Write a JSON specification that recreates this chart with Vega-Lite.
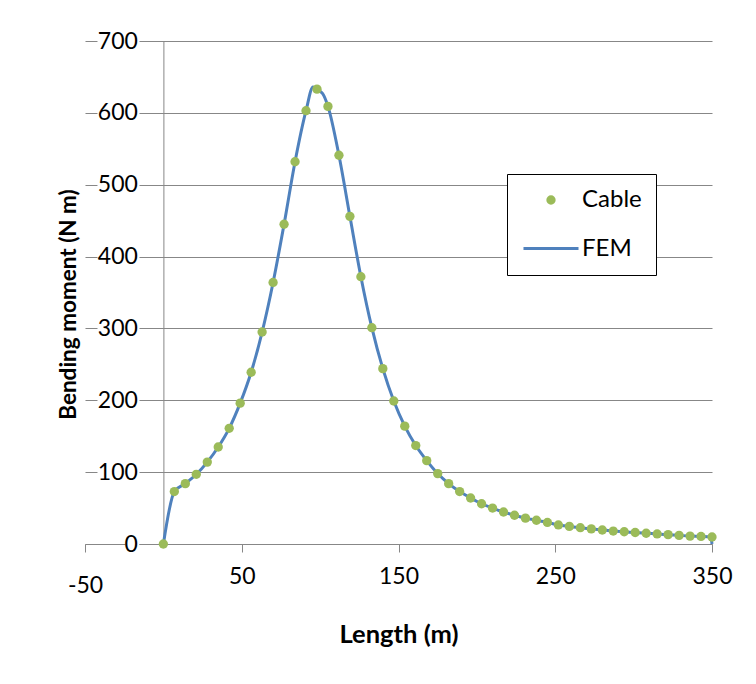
{
  "$schema": "https://vega.github.io/schema/vega-lite/v6.json",
  "width": 627,
  "height": 503,
  "autosize": {"type": "none"},
  "padding": {"left": 85, "top": 41, "right": 44, "bottom": 140},
  "background": "white",
  "config": {
    "view": {"stroke": null},
    "font": "Lato",
    "axis": {"labelFont": "Lato", "titleFont": "Lato", "labelColor": "#000000", "titleColor": "#000000"},
    "legend": {"labelFont": "Lato"}
  },
  "datasets": {
    "cable": [
      {"x": 0, "y": 0, "series": "Cable"}, {"x": 7, "y": 73, "series": "Cable"}, {"x": 14, "y": 84, "series": "Cable"},
      {"x": 21, "y": 97, "series": "Cable"}, {"x": 28, "y": 114, "series": "Cable"}, {"x": 35, "y": 135, "series": "Cable"},
      {"x": 42, "y": 161, "series": "Cable"}, {"x": 49, "y": 196, "series": "Cable"}, {"x": 56, "y": 239, "series": "Cable"},
      {"x": 63, "y": 295, "series": "Cable"}, {"x": 70, "y": 364, "series": "Cable"}, {"x": 77, "y": 445, "series": "Cable"},
      {"x": 84, "y": 532, "series": "Cable"}, {"x": 91, "y": 603, "series": "Cable"}, {"x": 98, "y": 633, "series": "Cable"},
      {"x": 105, "y": 609, "series": "Cable"}, {"x": 112, "y": 541, "series": "Cable"}, {"x": 119, "y": 456, "series": "Cable"},
      {"x": 126, "y": 372, "series": "Cable"}, {"x": 133, "y": 301, "series": "Cable"}, {"x": 140, "y": 244, "series": "Cable"},
      {"x": 147, "y": 199, "series": "Cable"}, {"x": 154, "y": 164, "series": "Cable"}, {"x": 161, "y": 137, "series": "Cable"},
      {"x": 168, "y": 116, "series": "Cable"}, {"x": 175, "y": 98, "series": "Cable"}, {"x": 182, "y": 84, "series": "Cable"},
      {"x": 189, "y": 73, "series": "Cable"}, {"x": 196, "y": 64, "series": "Cable"}, {"x": 203, "y": 56, "series": "Cable"},
      {"x": 210, "y": 50, "series": "Cable"}, {"x": 217, "y": 44.5, "series": "Cable"}, {"x": 224, "y": 40, "series": "Cable"},
      {"x": 231, "y": 36, "series": "Cable"}, {"x": 238, "y": 33, "series": "Cable"}, {"x": 245, "y": 30, "series": "Cable"},
      {"x": 252, "y": 26.5, "series": "Cable"}, {"x": 259, "y": 24.5, "series": "Cable"}, {"x": 266, "y": 22.7, "series": "Cable"},
      {"x": 273, "y": 21, "series": "Cable"}, {"x": 280, "y": 19.5, "series": "Cable"}, {"x": 287, "y": 18, "series": "Cable"},
      {"x": 294, "y": 17, "series": "Cable"}, {"x": 301, "y": 16, "series": "Cable"}, {"x": 308, "y": 15, "series": "Cable"},
      {"x": 315, "y": 14, "series": "Cable"}, {"x": 322, "y": 13, "series": "Cable"}, {"x": 329, "y": 12, "series": "Cable"},
      {"x": 336, "y": 11, "series": "Cable"}, {"x": 343, "y": 10.5, "series": "Cable"}, {"x": 350, "y": 9.7, "series": "Cable"}
    ],
    "fem": [
      {"x": 0, "y": 0, "series": "FEM"}, {"x": 7, "y": 73, "series": "FEM"}, {"x": 14, "y": 84, "series": "FEM"},
      {"x": 21, "y": 97, "series": "FEM"}, {"x": 28, "y": 114, "series": "FEM"}, {"x": 35, "y": 135, "series": "FEM"},
      {"x": 42, "y": 161, "series": "FEM"}, {"x": 49, "y": 196, "series": "FEM"}, {"x": 56, "y": 239, "series": "FEM"},
      {"x": 63, "y": 295, "series": "FEM"}, {"x": 70, "y": 364, "series": "FEM"}, {"x": 77, "y": 445, "series": "FEM"},
      {"x": 84, "y": 532, "series": "FEM"}, {"x": 91, "y": 603, "series": "FEM"}, {"x": 95.5, "y": 636, "series": "FEM"},
      {"x": 98, "y": 632, "series": "FEM"}, {"x": 101.5, "y": 627, "series": "FEM"},
      {"x": 105, "y": 609, "series": "FEM"}, {"x": 112, "y": 541, "series": "FEM"}, {"x": 119, "y": 456, "series": "FEM"},
      {"x": 126, "y": 372, "series": "FEM"}, {"x": 133, "y": 301, "series": "FEM"}, {"x": 140, "y": 244, "series": "FEM"},
      {"x": 147, "y": 199, "series": "FEM"}, {"x": 154, "y": 164, "series": "FEM"}, {"x": 161, "y": 137, "series": "FEM"},
      {"x": 168, "y": 116, "series": "FEM"}, {"x": 175, "y": 98, "series": "FEM"}, {"x": 182, "y": 84, "series": "FEM"},
      {"x": 189, "y": 73, "series": "FEM"}, {"x": 196, "y": 64, "series": "FEM"}, {"x": 203, "y": 56, "series": "FEM"},
      {"x": 210, "y": 50, "series": "FEM"}, {"x": 217, "y": 44.5, "series": "FEM"}, {"x": 224, "y": 40, "series": "FEM"},
      {"x": 231, "y": 36, "series": "FEM"}, {"x": 238, "y": 33, "series": "FEM"}, {"x": 245, "y": 30, "series": "FEM"},
      {"x": 252, "y": 26.5, "series": "FEM"}, {"x": 259, "y": 24.5, "series": "FEM"}, {"x": 266, "y": 22.7, "series": "FEM"},
      {"x": 273, "y": 21, "series": "FEM"}, {"x": 280, "y": 19.5, "series": "FEM"}, {"x": 287, "y": 18, "series": "FEM"},
      {"x": 294, "y": 17, "series": "FEM"}, {"x": 301, "y": 16, "series": "FEM"}, {"x": 308, "y": 15, "series": "FEM"},
      {"x": 315, "y": 14, "series": "FEM"}, {"x": 322, "y": 13, "series": "FEM"}, {"x": 329, "y": 12, "series": "FEM"},
      {"x": 336, "y": 11, "series": "FEM"}, {"x": 343, "y": 10.5, "series": "FEM"}, {"x": 349.3, "y": 9.7, "series": "FEM"},
      {"x": 350, "y": 0, "series": "FEM"}
    ]
  },
  "layer": [
    {
      "data": {"name": "fem"},
      "mark": {"type": "line", "interpolate": "monotone", "strokeWidth": 3, "clip": false},
      "encoding": {
        "x": {
          "field": "x", "type": "quantitative",
          "scale": {"domain": [-50, 350], "nice": false, "zero": false},
          "axis": {
            "values": [-50, 50, 150, 250, 350],
            "title": "Length (m)",
            "grid": false,
            "tickSize": 8,
            "tickColor": "#878787",
            "domainColor": "#878787",
            "domainDash": [40, 14, 2000],
            "labelFontSize": 23,
            "labelFlush": false,
            "labelExpr": "replace(datum.label, '\u2212', '-')",
            "labelPadding": {"condition": {"test": "datum.value == -50", "value": 22}, "value": 13},
            "titleFontSize": 25.5,
            "titleFontWeight": "bold",
            "titleY": 98,
            "titleBaseline": "alphabetic"
          }
        },
        "y": {
          "field": "y", "type": "quantitative",
          "scale": {"domain": [0, 700], "nice": false},
          "axis": {
            "values": [0, 100, 200, 300, 400, 500, 600, 700],
            "title": "Bending moment (N m)",
            "offset": -78.4,
            "ticks": false,
            "domainColor": "#878787",
            "gridColor": "#878787",
            "gridOpacity": 1,
            "gridDash": {"condition": {"test": "datum.value == 0", "value": [39, 15, 2000]}, "value": [12, 42, 2000]},
            "labelPadding": 26,
            "labelFontSize": 23,
            "titleFontSize": 22.5,
            "titleFontWeight": "bold",
            "titleX": -88,
            "titleY": 263,
            "titleBaseline": "alphabetic"
          }
        },
        "stroke": {
          "field": "series", "type": "nominal",
          "scale": {"domain": ["Cable", "FEM"], "range": ["#9BBB59", "#4F81BD"]},
          "legend": {
            "title": null, "orient": "none", "legendX": 422, "legendY": 133,
            "strokeColor": "#000000", "fillColor": "#ffffff", "padding": 14,
            "symbolOffset": 18, "labelOffset": 19, "labelFontSize": 24, "labelColor": "#000000",
            "rowPadding": 24.5, "symbolSize": 40, "symbolStrokeWidth": 3
          }
        }
      }
    },
    {
      "data": {"name": "cable"},
      "mark": {"type": "point", "filled": true, "size": 87, "opacity": 1, "clip": false},
      "encoding": {
        "x": {"field": "x", "type": "quantitative"},
        "y": {"field": "y", "type": "quantitative"},
        "fill": {
          "field": "series", "type": "nominal",
          "scale": {"domain": ["Cable", "FEM"], "range": ["#9BBB59", "#4F81BD"]},
          "legend": {
            "title": null, "orient": "none", "legendX": 422, "legendY": 133,
            "strokeColor": "#000000", "fillColor": "#ffffff", "padding": 14,
            "symbolOffset": 18, "labelOffset": 19, "labelFontSize": 24, "labelColor": "#000000",
            "rowPadding": 24.5, "symbolSize": 40, "symbolStrokeWidth": 3
          }
        },
        "shape": {
          "field": "series", "type": "nominal",
          "scale": {"domain": ["Cable", "FEM"], "range": ["circle", "M-8.7,0L8.7,0"]},
          "legend": {
            "title": null, "orient": "none", "legendX": 422, "legendY": 133,
            "strokeColor": "#000000", "fillColor": "#ffffff", "padding": 14,
            "symbolOffset": 18, "labelOffset": 19, "labelFontSize": 24, "labelColor": "#000000",
            "rowPadding": 24.5, "symbolSize": 40, "symbolStrokeWidth": 3
          }
        }
      }
    }
  ]
}
